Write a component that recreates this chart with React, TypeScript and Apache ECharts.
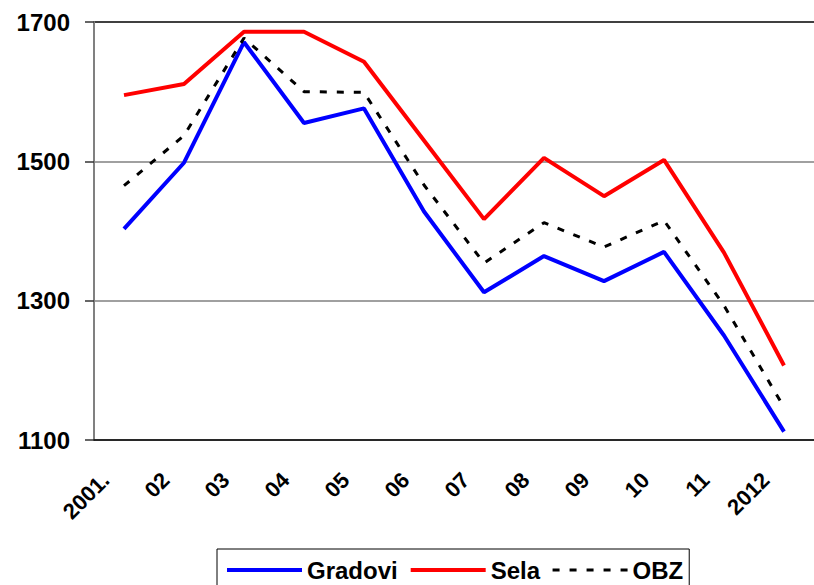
import React, { useEffect, useRef } from "react";
import * as echarts from "echarts";

const categories = ["2001.", "02", "03", "04", "05", "06", "07", "08", "09", "10", "11", "2012"];
const gradovi = [1403, 1498, 1671, 1555, 1576, 1428, 1312, 1364, 1328, 1370, 1250, 1112];
const sela = [1595, 1611, 1686, 1686, 1643, 1530, 1417, 1505, 1450, 1502, 1369, 1207];
const obz = [1465, 1537, 1677, 1600, 1599, 1466, 1354, 1412, 1377, 1415, 1293, 1147];
const yMin = 1100;
const yMax = 1700;
const yStep = 200;

const FONT = 'Arial, "Liberation Sans", sans-serif';

export default function App() {
  const ref = useRef<HTMLDivElement>(null);
  useEffect(() => {
    if (!ref.current) return;
    const chart = echarts.init(ref.current, null, { renderer: "svg" });
    chart.setOption({
      animation: false,
      backgroundColor: "#fff",
      grid: { left: 94, right: -7, top: 22, bottom: 145 },
      legend: {
        left: 217,
        top: 549,
        orient: "horizontal",
        padding: [8, 6, 8, 8],
        itemWidth: 75,
        itemHeight: 14,
        itemGap: 11,
        borderColor: "#000",
        borderWidth: 1,
        itemStyle: { opacity: 0 },
        textStyle: { fontFamily: FONT, fontWeight: "bold", fontSize: 24, color: "#000", lineHeight: 26 },
        data: [
          { name: "Gradovi", lineStyle: { width: 4 } },
          { name: "Sela", lineStyle: { width: 4 } },
          { name: "OBZ", lineStyle: { width: 3 } },
        ],
      },
      xAxis: {
        type: "category",
        data: categories,
        boundaryGap: true,
        axisLine: { lineStyle: { color: "#000", width: 1.5 } },
        axisTick: { length: 7, lineStyle: { color: "#808080", width: 1.5 } },
        axisLabel: {
          rotate: 45,
          margin: 18,
          padding: [0, 26, 0, 0],
          fontFamily: FONT,
          fontWeight: "bold",
          fontSize: 22,
          color: "#000",
          interval: 0,
        },
        splitLine: { show: false },
      },
      yAxis: {
        type: "value",
        min: yMin,
        max: yMax,
        interval: yStep,
        axisLine: { show: true, lineStyle: { color: "#808080", width: 2 } },
        axisTick: { show: true, length: 9, lineStyle: { color: "#333", width: 1.5 } },
        axisLabel: {
          margin: 24,
          fontFamily: FONT,
          fontWeight: "bold",
          fontSize: 24,
          color: "#000",
          formatter: (v: number) => String(v),
        },
        splitLine: {
          show: true,
          lineStyle: { color: ["#808080", "#808080", "#808080", "#000"], width: 1.5 },
        },
      },
      series: [
        {
          name: "Gradovi",
          type: "line",
          data: gradovi,
          symbol: "none",
          lineStyle: { color: "#0000ff", width: 4 },
          itemStyle: { color: "#0000ff" },
        },
        {
          name: "Sela",
          type: "line",
          data: sela,
          symbol: "none",
          lineStyle: { color: "#ff0000", width: 4 },
          itemStyle: { color: "#ff0000" },
        },
        {
          name: "OBZ",
          type: "line",
          data: obz,
          symbol: "none",
          lineStyle: { color: "#000", width: 3, type: [7, 10] },
          itemStyle: { color: "#000" },
        },
      ],
    });
    return () => chart.dispose();
  }, []);
  return <div ref={ref} style={{ width: 814, height: 585, position: "absolute", left: 0, top: 0 }} />;
}
